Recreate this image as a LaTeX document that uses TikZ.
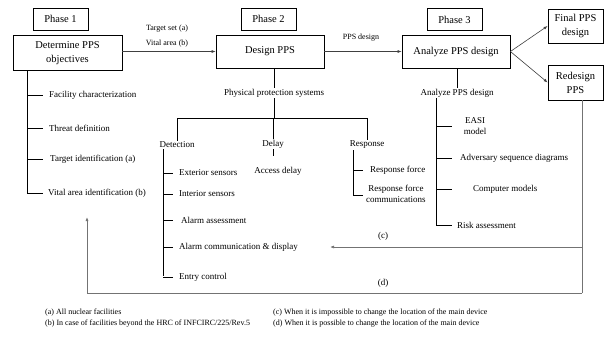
\documentclass[tikz,border=0pt]{standalone}
\usepackage{fontspec}
\setmainfont{Liberation Serif}
\usetikzlibrary{calc}
\usetikzlibrary{arrows.meta}

\tikzset{
  stage/.style={draw, line width=0.8pt, align=center, inner sep=1pt, font=\fontsize{10.5}{14}\selectfont},
  phase/.style={stage, minimum width=55pt, minimum height=22pt},
  item/.style={anchor=west, inner sep=1pt, font=\fontsize{9}{10.5}\selectfont},
  lbl/.style={inner sep=1pt, align=center, font=\fontsize{9}{10.5}\selectfont},
  note/.style={anchor=west, inner sep=1pt, font=\fontsize{8}{9}\selectfont},
  tree/.style={black, line width=0.9pt},
  flow/.style={black!75, line width=0.6pt, -{Latex[length=4pt,width=3pt]}},
  back/.style={black!55, line width=0.7pt},
}

\begin{document}
\begin{tikzpicture}[x=1pt, y=-1pt]
\useasboundingbox (0,0) rectangle (615,341);

% phases and main boxes
\node[phase] (ph1) at (60.5,19) {Phase 1};
\node[phase] (ph2) at (268.5,19) {Phase 2};
\node[phase] (ph3) at (454.5,19.5) {Phase 3};

\node[stage, minimum width=109pt, minimum height=35pt] (det) at (67.5,53) {Determine PPS\\objectives};
\node[stage, minimum width=108pt, minimum height=33pt] (des) at (270,51.5) {Design PPS};
\node[stage, minimum width=108pt, minimum height=33pt] (ana) at (456,51.5) {Analyze PPS design};
\node[stage, minimum width=55pt, minimum height=34pt] (fin) at (575.5,26) {Final PPS\\design};
\node[stage, minimum width=55pt, minimum height=35pt] (red) at (575.5,82.5) {Redesign\\PPS};

\node[lbl, font=\fontsize{8}{9}\selectfont] (tgt) at (167,29) {Target set (a)};
\node[lbl, font=\fontsize{8}{9}\selectfont] (vit) at (167,44) {Vital area (b)};
\node[lbl, font=\fontsize{8}{9}\selectfont] (ppd) at (361,38) {PPS design};

\draw[flow] (det.east |- des.west) -- (des.west);
\draw[flow] (des.east) -- (ana.west);
\draw[flow] (ana.east) -- (fin.west);
\draw[flow] (ana.east) -- (red.west);

% phase 1 tree
\coordinate (s1) at (27,194);
\node[item] (fac) at (48,95) {Facility characterization};
\node[item] (thr) at (48,128) {Threat definition};
\node[item] (tid) at (49,159) {Target identification (a)};
\node[item] (vid) at (47,193) {Vital area identification (b)};
\draw[tree] (det.south -| s1) -- (s1);
\foreach \n in {fac,thr,tid,vid}
  \draw[tree] (\n.west -| s1) -- ++(16,0);

% phase 2 tree
\node[lbl] (pps) at (274,93) {Physical protection systems};
\coordinate (barL) at (177,118);
\coordinate (barR) at (367,118);
\node[lbl] (dtc) at (177,145) {Detection};
\node[lbl] (dly) at (273,144) {Delay};
\node[lbl] (rsp) at (367,145) {Response};
\node[lbl] (acd) at (278,171) {Access delay};
\draw[tree] (des.south -| pps.north) -- (pps.north);
\draw[tree] (pps.south) -- (pps.south |- barL);
\draw[tree] (dtc.north) -- (barL) -- (barR) -- (rsp.north);
\draw[tree] (dly.north) -- (dly.north |- barL);
\draw[tree] (dly.south) -- ++(0,7);

\coordinate (s2) at (163,276);
\node[item] (ext) at (178,173) {Exterior sensors};
\node[item] (ins) at (178,194) {Interior sensors};
\node[item] (aas) at (180,220) {Alarm assessment};
\node[item] (acm) at (178,247) {Alarm communication \& display};
\node[item] (ent) at (178,277) {Entry control};
\draw[tree] (dtc.south -| s2) -- (s2);
\foreach \n in {ext,ins,aas,acm,ent}
  \draw[tree] (\n.west -| s2) -- ++(10,0);

\coordinate (s3) at (353,195);
\node[item] (rf) at (369,170) {Response force};
\node[lbl, anchor=west] (rfc) at (365,194) {Response force\\communications};
\draw[tree] (rsp.south -| s3) -- (s3);
\draw[tree] (rf.west -| s3) -- ++(10,0);
\draw[tree] (s3) -- ++(10,0);

% phase 3 tree
\node[lbl] (apd) at (457,93) {Analyze PPS design};
\draw[tree] (ana.south -| apd.north) -- (apd.north);
\coordinate (s4) at (436,225);
\node[lbl] (easi) at (475,126) {EASI\\model};
\node[item] (asd) at (459,158) {Adversary sequence diagrams};
\node[item] (cmp) at (472,189) {Computer models};
\node[item] (rsk) at (456,225) {Risk assessment};
\draw[tree] (apd.south -| s4) -- (s4);
\draw[tree] (easi.west -| s4) -- ++(16,0);
\foreach \n in {asd,cmp,rsk}
  \draw[tree] (\n.west -| s4) -- ++(16,0);

% feedback loops
\coordinate (cR) at (582,247);
\coordinate (cL) at (330,247);
\coordinate (dR) at (582,293);
\coordinate (dL) at (87,293);
\coordinate (dT) at (87,217);
\draw[back] (red.south -| cR) -- (dR);
\draw[back, -{Latex[length=4pt,width=3pt]}] (cR) -- (cL);
\draw[back, -{Latex[length=4pt,width=3pt]}] (dR) -- (dL) -- (dT);
\node[lbl] (lc) at (383,236) {(c)};
\node[lbl] (ld) at (383,283) {(d)};

% notes
\node[note] (na) at (44,313) {(a) All nuclear facilities};
\node[note] (nb) at (44,324) {(b) In case of facilities beyond the HRC of INFCIRC/225/Rev.5};
\node[note] (nc) at (272,313) {(c) When it is impossible to change the location of the main device};
\node[note] (nd) at (272,324) {(d) When it is possible to change the location of the main device};

\end{tikzpicture}
\end{document}
